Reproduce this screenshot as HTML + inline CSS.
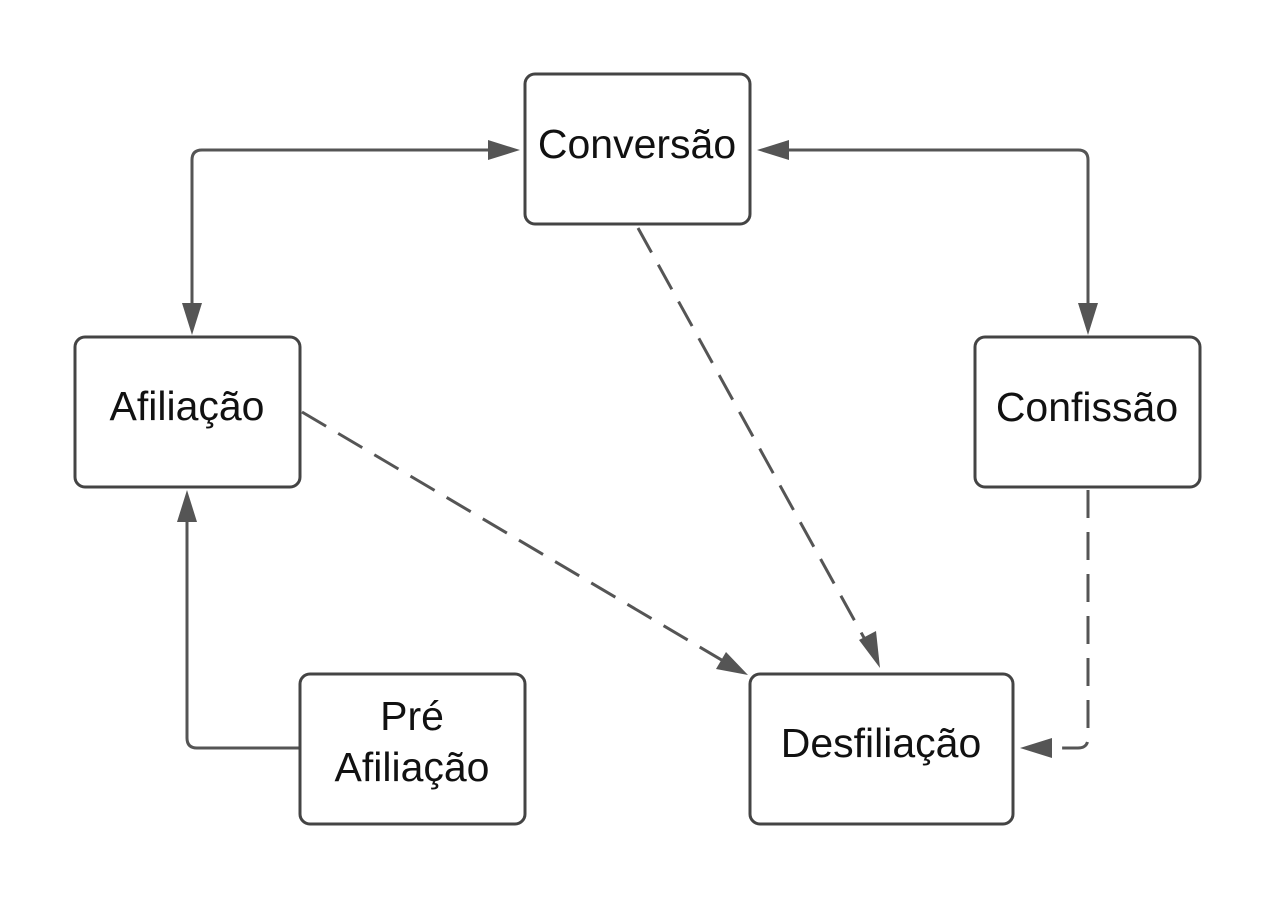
<!DOCTYPE html>
<html><head><meta charset="utf-8"><style>
html,body{margin:0;padding:0;background:#fff;}
svg{display:block}
text{font-family:"Liberation Sans",sans-serif;font-size:41px;fill:#111;text-anchor:middle;}
</style></head><body>
<svg width="1275" height="900" viewBox="0 0 1275 900" xmlns="http://www.w3.org/2000/svg">
<g fill="none" stroke="#555" stroke-width="3">
<path d="M192,330 V160 Q192,150 202,150 H500"/>
<path d="M775,150 H1078 Q1088,150 1088,160 V310"/>
<path d="M300,748 H197 Q187,748 187,738 V520"/>
<path d="M638,228 L868,645" stroke-dasharray="28,14"/>
<path d="M302,412 L725,662" stroke-dasharray="28,14"/>
<path d="M1088,490 V738 Q1088,748 1078,748 H1045" stroke-dasharray="28,14"/>
</g>
<g fill="#555">
<polygon points="520,150 488,140 488,160"/>
<polygon points="757,150 789,140 789,160"/>
<polygon points="192,335 182,303 202,303"/>
<polygon points="1088,335 1078,303 1098,303"/>
<polygon points="187,490 177,522 197,522"/>
<polygon points="880,668 859,640 876,631"/>
<polygon points="748,675 716,669 726,652"/>
<polygon points="1020,748 1052,738 1052,758"/>
</g>
<g fill="#fff" stroke="#444" stroke-width="3">
<rect x="525" y="74" width="225" height="150" rx="10"/>
<rect x="75" y="337" width="225" height="150" rx="10"/>
<rect x="975" y="337" width="225" height="150" rx="10"/>
<rect x="300" y="674" width="225" height="150" rx="10"/>
<rect x="750" y="674" width="263" height="150" rx="10"/>
</g>
<text x="637" y="158">Conversão</text>
<text x="187" y="420">Afiliação</text>
<text x="1087" y="421">Confissão</text>
<text x="412" y="730">Pré</text>
<text x="412" y="781">Afiliação</text>
<text x="881" y="757">Desfiliação</text>
</svg>
</body></html>
